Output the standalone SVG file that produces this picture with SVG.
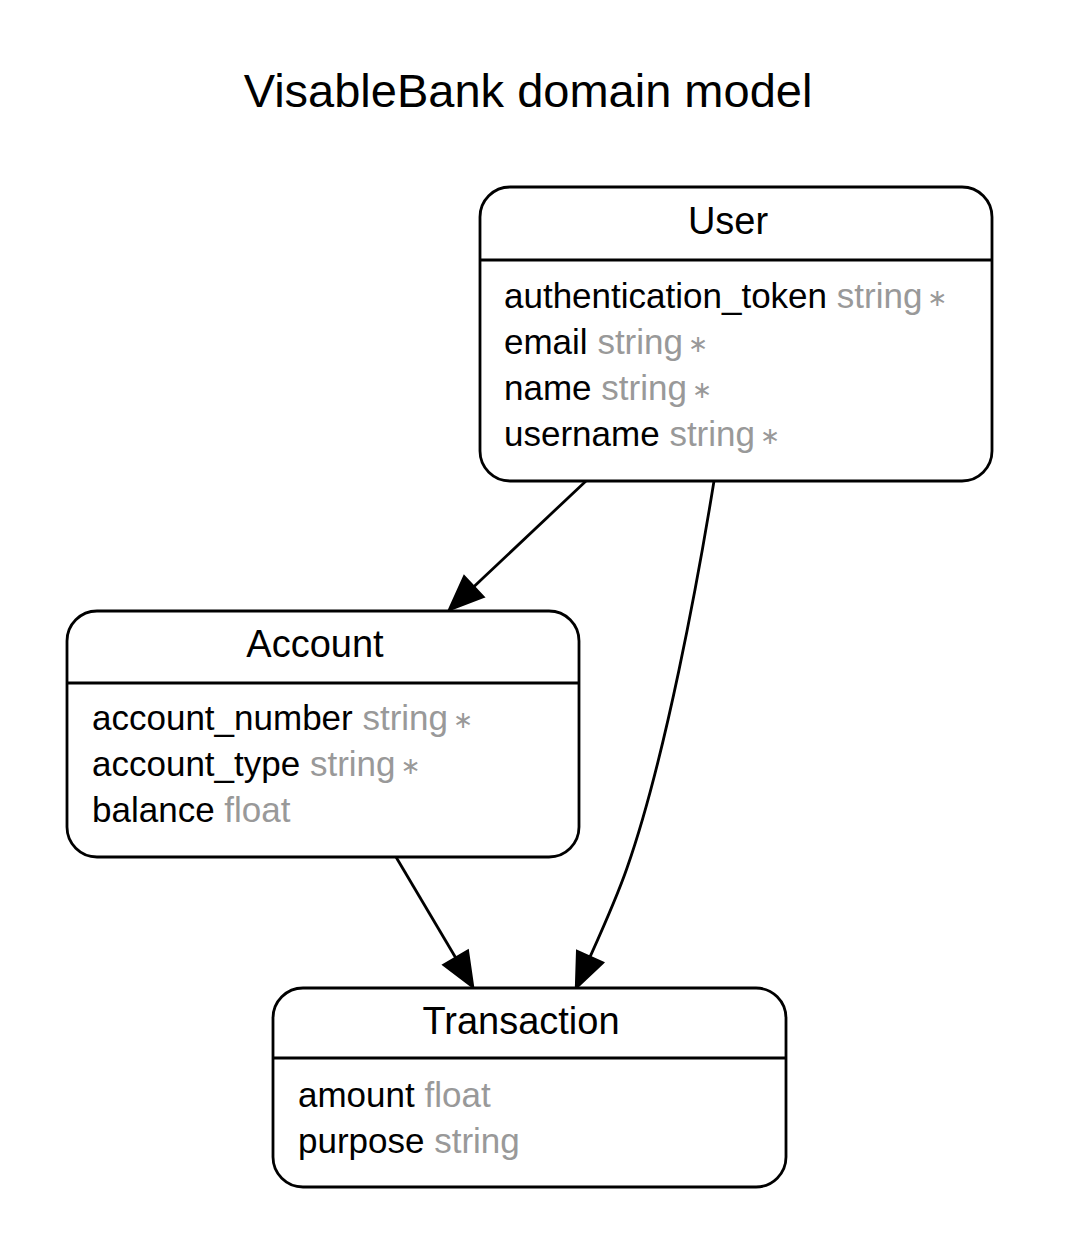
<svg xmlns="http://www.w3.org/2000/svg" width="1070" height="1256" viewBox="0 0 1070 1256">
<style>
text { font-family: "Liberation Sans", Arial, Helvetica, "DejaVu Sans", sans-serif; fill: #000; }
.title { font-size: 47px; text-anchor: middle; }
.name { font-size: 38px; text-anchor: middle; }
.attr { font-size: 35px; }
.t { fill: #999999; }
.s { fill: #999999; font-size: 24px; }
.box { fill: #fff; stroke: #000; stroke-width: 2.8; }
.div { stroke: #000; stroke-width: 2.8; }
.edge { fill: none; stroke: #000; stroke-width: 2.8; }
</style>
<defs>
<marker id="arrow" markerUnits="userSpaceOnUse" markerWidth="40" markerHeight="34" refX="0" refY="17" orient="auto" overflow="visible">
<path d="M0,3 L34,17 L0,31 z" fill="#000" stroke="#000" stroke-width="2.5" stroke-linejoin="miter"/>
</marker>
</defs>
<rect width="1070" height="1256" fill="#fff"/>
<text class="title" x="528" y="107">VisableBank domain model</text>

<g id="connectors">
<path class="edge" d="M586,481 L473.8,586.7" marker-end="url(#arrow)"/>
<path class="edge" d="M714,481 C698,580 665,760 627,868 C617,897 603,928 590,957" marker-end="url(#arrow)"/>
<path class="edge" d="M396,857 L455.7,957.8" marker-end="url(#arrow)"/>
</g>

<g id="node-user">
<rect class="box" x="480" y="187" width="512" height="294" rx="30" ry="30"/>
<line class="div" x1="480" y1="260" x2="992" y2="260"/>
<text class="name" x="728" y="234">User</text>
<text class="attr" x="504" y="308">authentication_token <tspan class="t">string</tspan><tspan class="s" dx="5" dy="-2">∗</tspan></text>
<text class="attr" x="504" y="354">email <tspan class="t">string</tspan><tspan class="s" dx="5" dy="-2">∗</tspan></text>
<text class="attr" x="504" y="400">name <tspan class="t">string</tspan><tspan class="s" dx="5" dy="-2">∗</tspan></text>
<text class="attr" x="504" y="446">username <tspan class="t">string</tspan><tspan class="s" dx="5" dy="-2">∗</tspan></text>
</g>

<g id="node-account">
<rect class="box" x="67" y="611" width="512" height="246" rx="30" ry="30"/>
<line class="div" x1="67" y1="683" x2="579" y2="683"/>
<text class="name" x="315" y="657">Account</text>
<text class="attr" x="92" y="730">account_number <tspan class="t">string</tspan><tspan class="s" dx="5" dy="-2">∗</tspan></text>
<text class="attr" x="92" y="776">account_type <tspan class="t">string</tspan><tspan class="s" dx="5" dy="-2">∗</tspan></text>
<text class="attr" x="92" y="822">balance <tspan class="t">float</tspan></text>
</g>

<g id="node-transaction">
<rect class="box" x="273" y="988" width="513" height="199" rx="30" ry="30"/>
<line class="div" x1="273" y1="1058" x2="786" y2="1058"/>
<text class="name" x="521" y="1034">Transaction</text>
<text class="attr" x="298" y="1107">amount <tspan class="t">float</tspan></text>
<text class="attr" x="298" y="1153">purpose <tspan class="t">string</tspan></text>
</g>
</svg>
